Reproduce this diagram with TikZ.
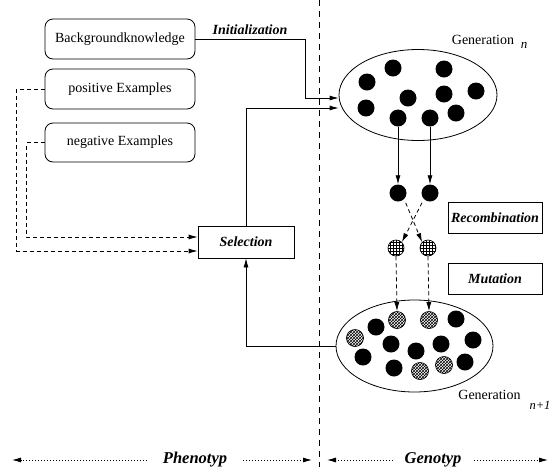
\documentclass[tikz,border=0pt]{standalone}
\usepackage{fontspec}
\setmainfont{Liberation Serif}
\usetikzlibrary{arrows.meta,shapes.geometric,patterns}
\begin{document}
\begin{tikzpicture}[x=1pt,y=-1pt,
  every node/.style={font=\fontsize{14}{16}\selectfont},
  ln/.style={line width=0.8pt},
  arr/.style={ln,-{Latex[length=9pt,width=5pt]}},
  dsh/.style={dash pattern=on 4pt off 3pt},
  dtt/.style={line width=0.8pt,dash pattern=on 0.8pt off 2.2pt},
  rbox/.style={draw,ln,rounded corners=8pt,minimum width=150pt,minimum height=40pt,inner sep=0pt},
  sbox/.style={draw,ln,minimum width=94pt,minimum height=31pt,inner sep=0pt,font=\fontsize{14}{16}\selectfont\bfseries\itshape},
  bi/.style={font=\fontsize{14}{16}\selectfont\bfseries\itshape},
  big/.style={font=\fontsize{16.5}{18}\selectfont\bfseries\itshape},
  pop/.style={draw,ln,ellipse,inner sep=0pt},
  bdot/.style={circle,fill=black,minimum size=17pt,inner sep=0pt},
  gdot/.style={circle,draw,line width=0.7pt,pattern=grid,minimum size=16pt,inner sep=0pt},
  mdot/.style={circle,draw,line width=0.7pt,pattern=crosshatch,minimum size=17pt,inner sep=0pt}
]
\useasboundingbox (0,0) rectangle (555,467);

% divider
\coordinate (vt) at (319,0);
\coordinate (vb) at (319,467);
\draw[line width=1pt,dash pattern=on 6pt off 5pt] (vt) -- (vb);

% left boxes
\node[rbox] (bg) at (120,39) {Backgroundknowledge};
\node[rbox] (pos) at (120,89) {positive Examples};
\node[rbox,minimum height=39pt] (neg) at (120,142.5) {negative Examples};
\node[bi] (init) at (250,30) {Initialization};
\node[sbox,minimum width=96pt,minimum height=32pt] (sel) at (246,242) {Selection};

% populations
\node[pop,minimum width=158pt,minimum height=91pt] (gen1) at (418,95) {};
\node[pop,minimum width=157pt,minimum height=92pt] (gen2) at (414.5,346) {};
\node (g1lab) at (483,40) {Generation};
\node[font=\fontsize{13}{14}\selectfont\itshape] (g1sub) at (524,45) {n};
\node (g2lab) at (489.5,395) {Generation};
\node[font=\fontsize{12.5}{14}\selectfont\itshape,inner sep=0pt] (g2sub) at (540,405) {n+1};

% generation n individuals
\node[bdot] (a1) at (393,68) {};
\node[bdot] (a2) at (444,69) {};
\node[bdot] (a3) at (367,82) {};
\node[bdot] (a4) at (476,91) {};
\node[bdot] (a5) at (444,94) {};
\node[bdot] (a6) at (408,98) {};
\node[bdot] (a7) at (366,108) {};
\node[bdot] (a8) at (398,118) {};
\node[bdot] (a9) at (430,118) {};
\node[bdot] (a10) at (456,113) {};

% selected parents
\node[bdot] (r1) at (398,193) {};
\node[bdot] (r2) at (430,193) {};
% recombined children
\node[gdot] (h1) at (396,248) {};
\node[gdot] (h2) at (428,248) {};

\node[sbox] (rec) at (495,217.5) {Recombination};
\node[sbox] (mut) at (495,278.5) {Mutation};

% generation n+1 individuals
\node[mdot] (m1) at (397,320) {};
\node[mdot] (m2) at (429,320) {};
\node[mdot] (m3) at (355,338) {};
\node[mdot] (m4) at (420,371) {};
\node[mdot] (m5) at (444,365) {};
\node[bdot] (b1) at (376,327) {};
\node[bdot] (b2) at (456,319) {};
\node[bdot] (b3) at (391,344) {};
\node[bdot] (b4) at (416,351) {};
\node[bdot] (b5) at (441,344) {};
\node[bdot] (b6) at (473,340) {};
\node[bdot] (b7) at (363,357) {};
\node[bdot] (b8) at (394,368) {};
\node[bdot] (b9) at (465,362) {};

% connectors
\coordinate (c1) at (305,98);
\coordinate (c2) at (246,108);
\draw[arr] (bg.east) -| (c1) -- (gen1.west |- c1);
\draw[arr] (sel.north) -- (c2) -- (gen1.west |- c2);
\draw[arr] (gen2.west) -| (sel.south);
\draw[arr,dsh] (pos.west) -- ++(-28,0) |- ([yshift=-9pt]sel.west);
\draw[arr,dsh] (neg.west) -- ++(-18,0) |- ([yshift=5pt]sel.west);

\draw[arr] (a8.south) -- (r1.north);
\draw[arr] (a9.south) -- (r2.north);
\draw[arr,dsh,shorten <=4pt] (r1.south east) -- (h2.north west);
\draw[arr,dsh,shorten <=4pt] (r2.south west) -- (h1.north east);
\draw[arr,dsh] (h1.south) -- (m1.north);
\draw[arr,dsh] (h2.south) -- (m2.north);

% bottom legend
\coordinate (pl) at (12,460);
\coordinate (pr) at (312,460);
\node[big,inner xsep=16pt] (pheno) at (195,460) {Phenotyp};
\draw[dtt,-{Latex[length=9pt,width=5pt]}] (pheno.west) -- (pl);
\draw[dtt,-{Latex[length=9pt,width=5pt]}] (pheno.east) -- (pr);
\coordinate (gl) at (327,460);
\coordinate (gr) at (548,460);
\node[big,inner xsep=12pt] (geno) at (433,460) {Genotyp};
\draw[dtt,-{Latex[length=9pt,width=5pt]}] (geno.west) -- (gl);
\draw[dtt,-{Latex[length=9pt,width=5pt]}] (geno.east) -- (gr);
\end{tikzpicture}
\end{document}
